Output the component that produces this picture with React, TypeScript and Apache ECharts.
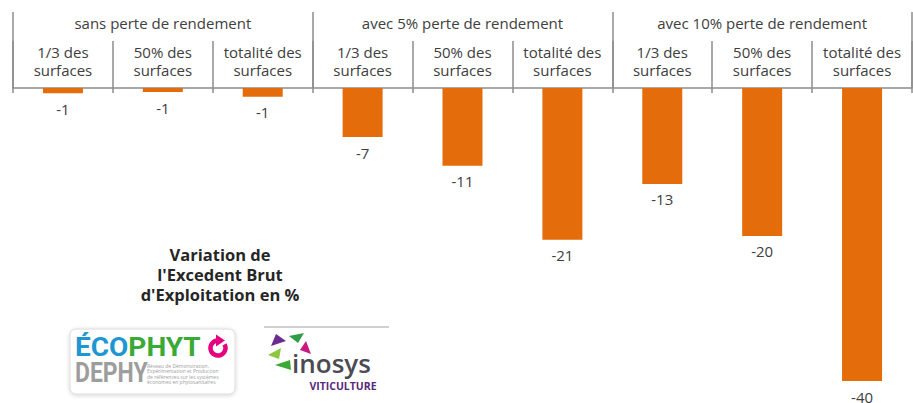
import React, { useEffect, useRef } from "react";
import * as echarts from "echarts";

const categories = [
  "1/3 des\nsurfaces",
  "50% des\nsurfaces",
  "totalité des\nsurfaces",
  "1/3 des\nsurfaces",
  "50% des\nsurfaces",
  "totalité des\nsurfaces",
  "1/3 des\nsurfaces",
  "50% des\nsurfaces",
  "totalité des\nsurfaces",
];
const groups = [
  "sans perte de rendement",
  "avec 5% perte de rendement",
  "avec 10% perte de rendement",
];
const values = [-0.7, -0.55, -1.2, -6.7, -10.6, -20.7, -13.1, -20.2, -40];
const titleLines = ["Variation de", "l'Excedent Brut", "d'Exploitation en %"];
const dephyLines = [
  "Réseau de Démonstration,",
  "Expérimentation et Production",
  "de références sur les systèmes",
  "économes en phytosanitaires",
];

const FONT = "'Open Sans', 'Noto Sans', sans-serif";
const LOGO_FONT = "Roboto, 'Noto Sans', sans-serif";
const AXIS_GRAY = "#8c8c8c";
const TEXT_GRAY = "#404040";

export default function App() {
  const ref = useRef<HTMLDivElement>(null);
  useEffect(() => {
    if (!ref.current) return;
    const chart = echarts.init(ref.current, undefined, { renderer: "svg" });
    const option: any = {
      animation: false,
      backgroundColor: "#ffffff",
      grid: { left: 13, right: 1, top: 88, bottom: 22, containLabel: false },
      xAxis: [
        {
          type: "category",
          position: "top",
          data: categories,
          axisLine: { show: true, lineStyle: { color: AXIS_GRAY, width: 1.5 } },
          axisTick: { show: true, length: 47, lineStyle: { color: AXIS_GRAY, width: 1.5 } },
          axisLabel: {
            interval: 0,
            margin: 9,
            fontFamily: FONT,
            fontSize: 15,
            lineHeight: 18,
            color: TEXT_GRAY,
          },
          splitLine: { show: false },
        },
        {
          type: "category",
          position: "top",
          data: groups,
          axisLine: { show: false },
          axisTick: { show: true, length: 76, lineStyle: { color: AXIS_GRAY, width: 1.5 } },
          axisLabel: {
            interval: 0,
            margin: 58,
            fontFamily: FONT,
            fontSize: 15,
            color: TEXT_GRAY,
          },
          splitLine: { show: false },
        },
        {
          type: "category",
          position: "top",
          data: categories,
          axisLine: { show: false },
          axisTick: { show: true, inside: true, length: 5, lineStyle: { color: AXIS_GRAY, width: 1.5 } },
          axisLabel: { show: false },
          splitLine: { show: false },
        },
      ],
      yAxis: {
        type: "value",
        min: -40,
        max: 0,
        show: false,
        splitLine: { show: false },
      },
      series: [
        {
          type: "bar",
          xAxisIndex: 0,
          data: values,
          barWidth: 40,
          itemStyle: { color: "#E46C0A" },
          label: {
            show: true,
            position: "bottom",
            distance: 8,
            fontFamily: FONT,
            fontSize: 15,
            color: TEXT_GRAY,
            formatter: (p: any) => String(Math.round(p.value)),
          },
        },
      ],
      graphic: [
        {
          type: "text",
          x: 220,
          y: 274,
          style: {
            text: titleLines.join("\n"),
            fontFamily: FONT,
            fontSize: 16.5,
            fontWeight: "bold",
            lineHeight: 20,
            fill: "#262626",
            align: "center",
            verticalAlign: "middle",
            textAlign: "center",
            textVerticalAlign: "middle",
          },
        },
        // ECOPHYTO DEPHY logo
        {
          type: "rect",
          shape: { x: 70, y: 329, width: 165, height: 65, r: 6 },
          style: {
            fill: "#ffffff",
            stroke: "#dcdcdc",
            lineWidth: 1,
            shadowBlur: 4,
            shadowColor: "rgba(0,0,0,0.18)",
            shadowOffsetY: 1,
          },
        },
        {
          type: "text",
          x: 75,
          y: 347,
          scaleX: 1.12,
          style: {
            text: "{b|ÉCO}{g|PHYT}",
            verticalAlign: "middle",
            textVerticalAlign: "middle",
            rich: {
              b: {
                fill: "#1e96d2",
                fontFamily: LOGO_FONT,
                fontWeight: "bold",
                fontSize: 25,
              },
              g: {
                fill: "#3aa935",
                fontFamily: LOGO_FONT,
                fontWeight: "bold",
                fontSize: 25,
              },
            },
          },
        },
        {
          type: "arc",
          shape: { cx: 218, cy: 348, r: 7.5, startAngle: -Math.PI / 6, endAngle: Math.PI * 1.5, clockwise: true },
          style: { stroke: "#e5007e", lineWidth: 4.5, fill: "none" },
        },
        {
          type: "polygon",
          shape: { points: [[216, 334.5], [216, 346.5], [225, 340.5]] },
          style: { fill: "#e5007e" },
        },
        {
          type: "text",
          x: 75,
          y: 372,
          scaleX: 0.82,
          style: {
            text: "DEPHY",
            fontFamily: LOGO_FONT,
            fontWeight: "bold",
            fontSize: 28,
            fill: "#9d9d9d",
            verticalAlign: "middle",
            textVerticalAlign: "middle",
          },
        },
        {
          type: "text",
          x: 147,
          y: 374,
          style: {
            text: dephyLines.join("\n"),
            fontFamily: FONT,
            fontSize: 5,
            lineHeight: 5.5,
            fill: "#9d9d9d",
            verticalAlign: "middle",
            textVerticalAlign: "middle",
          },
        },
        // inosys logo
        {
          type: "line",
          shape: { x1: 264, y1: 327, x2: 389, y2: 327 },
          style: { stroke: "#a0a0a0", lineWidth: 1 },
        },
        {
          type: "polygon",
          shape: { points: [[271, 346], [276, 334], [286, 341]] },
          style: { fill: "#6a2c8e" },
        },
        {
          type: "polygon",
          shape: { points: [[289, 336], [304, 333], [298, 343]] },
          style: { fill: "#2e9e45" },
        },
        {
          type: "polygon",
          shape: { points: [[306, 341], [311, 354], [300, 350]] },
          style: { fill: "#c8197f" },
        },
        {
          type: "polygon",
          shape: { points: [[268, 355], [281, 348], [279, 359]] },
          style: { fill: "#8dc63f" },
        },
        {
          type: "polygon",
          shape: { points: [[275, 365], [290, 360], [291, 370]] },
          style: { fill: "#3aa935" },
        },
        {
          type: "text",
          x: 292,
          y: 363,
          style: {
            text: "inosys",
            fontFamily: FONT,
            fontWeight: 600,
            fontSize: 26,
            lineHeight: 26,
            fill: "#4b4b55",
            verticalAlign: "middle",
            textVerticalAlign: "middle",
          },
        },
        {
          type: "text",
          x: 343,
          y: 386,
          style: {
            text: "VITICULTURE",
            fontFamily: FONT,
            fontWeight: "bold",
            fontSize: 10.5,
            fill: "#5b2a7a",
            align: "center",
            verticalAlign: "middle",
            textAlign: "center",
            textVerticalAlign: "middle",
          },
        },
      ],
    };
    chart.setOption(option);
    return () => chart.dispose();
  }, []);
  return <div ref={ref} style={{ width: 913, height: 403, position: "absolute", left: 0, top: 0 }} />;
}
